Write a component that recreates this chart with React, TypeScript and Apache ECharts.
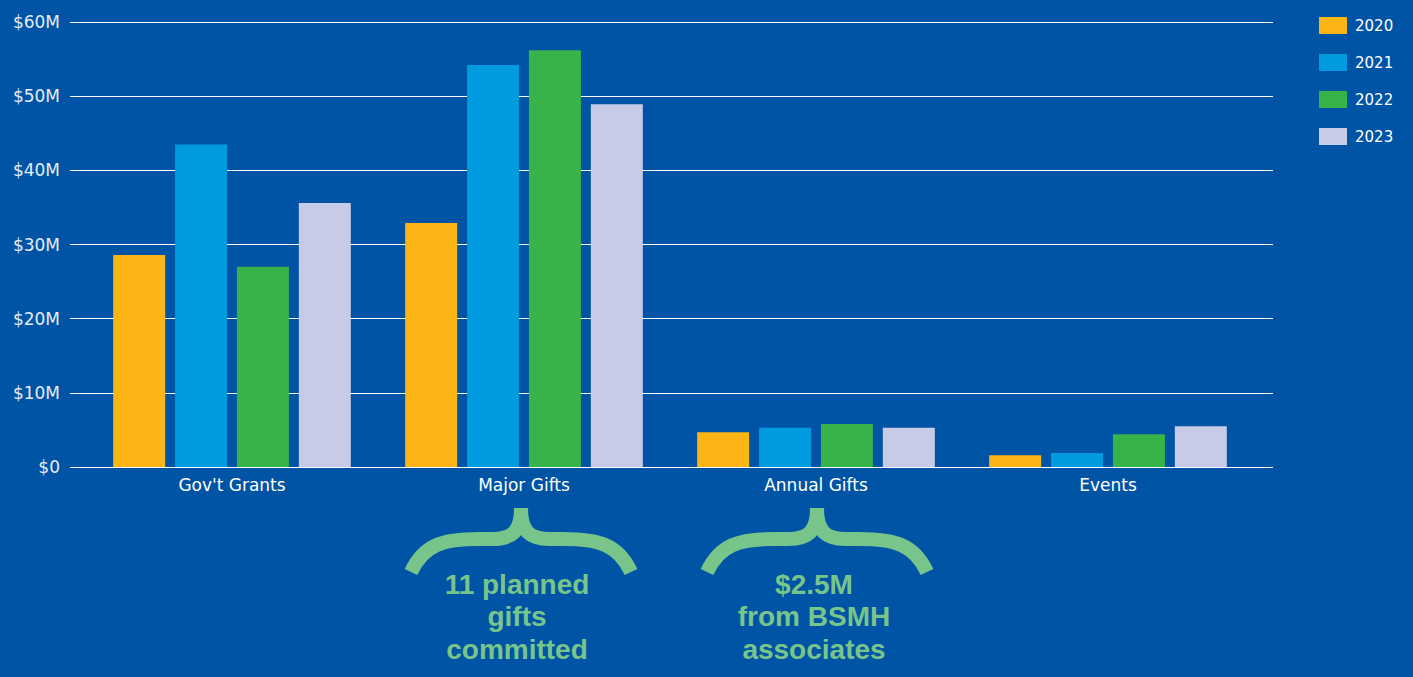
import React, { useEffect, useRef } from "react";
import * as echarts from "echarts";

const categories = ["Gov't Grants", "Major Gifts", "Annual Gifts", "Events"];
const years = ["2020", "2021", "2022", "2023"];
const values2020 = [28.6, 32.9, 4.7, 1.6];
const values2021 = [43.5, 54.2, 5.3, 1.9];
const values2022 = [27.0, 56.2, 5.8, 4.4];
const values2023 = [35.6, 48.9, 5.3, 5.5];
const yearColors = ["#FDB515", "#009ADE", "#37B34A", "#C8CBE8"];
const yTicks = [0, 10, 20, 30, 40, 50, 60];
const note1 = ["11 planned", "gifts", "committed"];
const note2 = ["$2.5M", "from BSMH", "associates"];

const BRACE =
  "M 7 64 C 20 36, 40 31, 75 31 L 88 31 C 108 31, 117 24, 117 0 C 117 24, 126 31, 146 31 L 159 31 C 194 31, 214 36, 227 64";

echarts.graphic.registerShape("brace", echarts.graphic.extendPath(BRACE, {}) as any);

const FONT = "'DejaVu Sans', 'Noto Sans', sans-serif";
const NOTE_FONT = "'Liberation Sans', 'Noto Sans', sans-serif";
const GREEN = "#78C58B";

function noteTexts(lines: string[], cx: number) {
  return lines.map((t, i) => ({
    type: "text",
    x: cx,
    y: 584 + i * 32.5,
    style: {
      text: t,
      fill: GREEN,
      font: `bold 28px ${NOTE_FONT}`,
      textAlign: "center",
      textVerticalAlign: "middle",
    },
  }));
}

export default function App() {
  const ref = useRef<HTMLDivElement>(null);
  useEffect(() => {
    if (!ref.current) return;
    const chart = echarts.init(ref.current, null, { renderer: "svg" });
    const seriesData = [values2020, values2021, values2022, values2023];
    const top = 22;
    const bottom = 677 - 467;
    chart.setOption({
      animation: false,
      backgroundColor: "#0054A5",
      textStyle: { fontFamily: FONT },
      legend: {
        orient: "vertical",
        left: 1314,
        top: 12,
        itemWidth: 28,
        itemHeight: 17,
        itemGap: 20,
        icon: "rect",
        data: years,
        textStyle: { color: "#ffffff", fontSize: 15, lineHeight: 17, fontFamily: FONT, padding: [0, 0, 0, 3] },
      },
      grid: [
        { left: 70, right: 1413 - 1273, top, bottom },
        { left: 86, right: 1413 - 1254, top, bottom },
      ],
      xAxis: [
        { type: "value", gridIndex: 0, show: false, min: 0, max: 1 },
        {
          type: "category",
          gridIndex: 1,
          data: categories,
          axisLine: { show: false },
          axisTick: { show: false },
          axisLabel: { color: "#ffffff", fontSize: 17, margin: 9, fontFamily: FONT },
        },
      ],
      yAxis: [
        {
          type: "value",
          gridIndex: 0,
          min: 0,
          max: 60,
          interval: 10,
          axisLine: { show: false },
          axisTick: { show: false },
          splitLine: { lineStyle: { color: "#ffffff", width: 1 } },
          axisLabel: {
            color: "#E6ECF5",
            fontSize: 17,
            margin: 10,
            fontFamily: FONT,
            formatter: (v: number) => (yTicks.includes(v) ? (v === 0 ? "$0" : "$" + v + "M") : ""),
          },
        },
        { type: "value", gridIndex: 1, min: 0, max: 60, show: false, splitLine: { show: false } },
      ],
      series: years.map((y, i) => ({
        name: y,
        type: "bar",
        xAxisIndex: 1,
        yAxisIndex: 1,
        data: seriesData[i],
        barWidth: 52,
        barGap: "19%",
        itemStyle: { color: yearColors[i] },
      })),
      graphic: [
        {
          type: "brace",
          x: 404,
          y: 508,
          shape: {},
          style: { fill: "none", stroke: GREEN, lineWidth: 14 },
        },
        {
          type: "brace",
          x: 700,
          y: 508,
          shape: {},
          style: { fill: "none", stroke: GREEN, lineWidth: 14 },
        },
        ...noteTexts(note1, 517),
        ...noteTexts(note2, 814),
      ],
    });
    return () => chart.dispose();
  }, []);
  return (
    <div
      ref={ref}
      style={{ position: "fixed", left: 0, top: 0, width: 1413, height: 677 }}
    />
  );
}
